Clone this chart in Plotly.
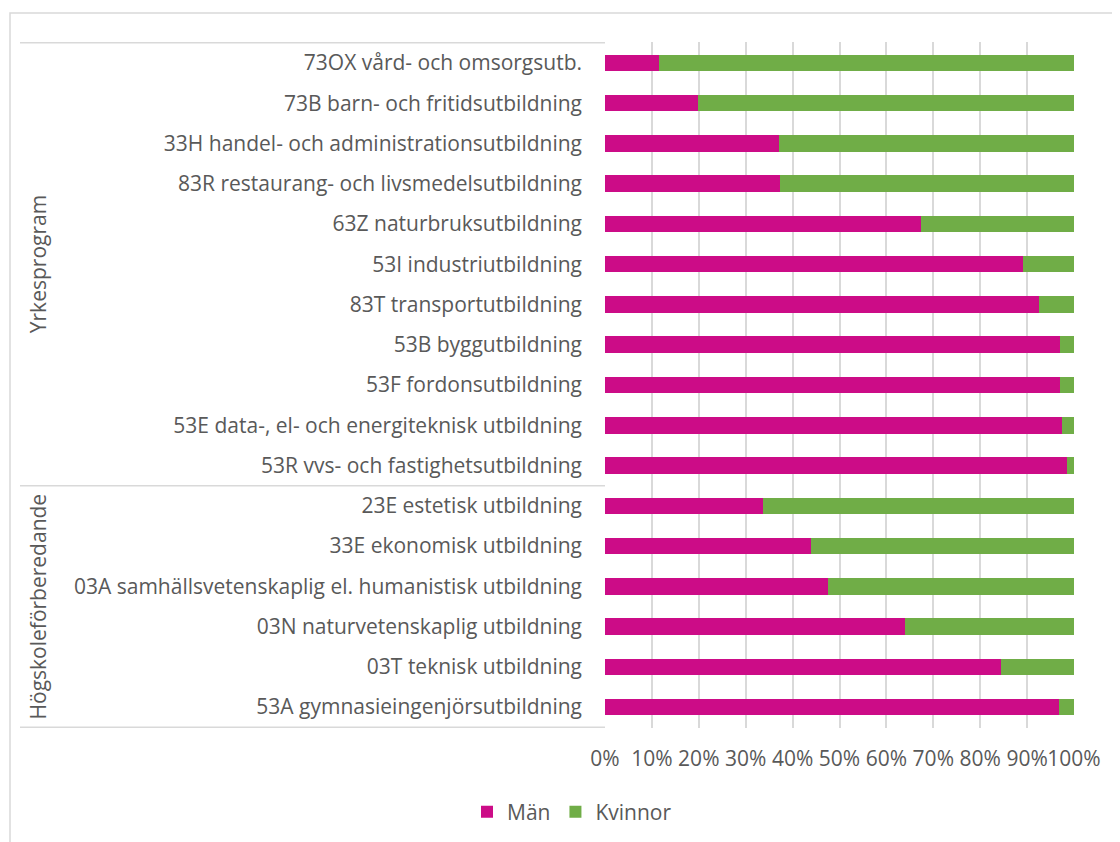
import plotly.graph_objects as go

# Kategorier uppifrån och ned
program = [
    "73OX vård- och omsorgsutb.",
    "73B barn- och fritidsutbildning",
    "33H handel- och administrationsutbildning",
    "83R restaurang- och livsmedelsutbildning",
    "63Z naturbruksutbildning",
    "53I industriutbildning",
    "83T transportutbildning",
    "53B byggutbildning",
    "53F fordonsutbildning",
    "53E data-, el- och energiteknisk utbildning",
    "53R vvs- och fastighetsutbildning",
    "23E estetisk utbildning",
    "33E ekonomisk utbildning",
    "03A samhällsvetenskaplig el. humanistisk utbildning",
    "03N naturvetenskaplig utbildning",
    "03T teknisk utbildning",
    "53A gymnasieingenjörsutbildning",
]
man = [11.6, 19.9, 37.0, 37.3, 67.4, 89.1, 92.6, 97.0, 97.0, 97.5, 98.4,
       33.7, 44.0, 47.5, 63.9, 84.5, 96.7]
kvinnor = [88.4, 80.1, 63.0, 62.7, 32.6, 10.9, 7.4, 3.0, 3.0, 2.5, 1.6,
           66.3, 56.0, 52.5, 36.1, 15.5, 3.3]
groups = ["Yrkesprogram", "Högskoleförberedande"]
x_ticks = [0, 10, 20, 30, 40, 50, 60, 70, 80, 90, 100]

W, H = 1120, 842
OFF = 8  # sidans body-marginal
L, R, T, B = 605, 1074, 42, 728  # plotytan i sidkoordinater
FONT = "Open Sans"
FS = 21
TXT = "#595959"
GRID = "#d9d9d9"


def px_x(p):
    return (p - L) / (R - L)


def px_y(p):
    return (B - p) / (B - T)


fig = go.Figure()
fig.add_trace(go.Bar(y=program, x=man, name="Män", orientation="h",
                     marker_color="#CC0C87", marker_line_width=0))
fig.add_trace(go.Bar(y=program, x=kvinnor, name="Kvinnor", orientation="h",
                     marker_color="#70AD47", marker_line_width=0))

# ram runt diagrammet
fig.add_shape(type="rect", xref="paper", yref="paper",
              x0=px_x(10), x1=px_x(1135), y0=px_y(870), y1=px_y(13),
              line=dict(color=GRID, width=1.5), layer="below")

# gruppavdelare i kategoriområdet
for yv in [-0.5, 10.5, 16.5]:
    fig.add_shape(type="line", xref="paper", yref="y",
                  x0=px_x(20), x1=0, y0=yv, y1=yv,
                  line=dict(color=GRID, width=1.5))

fig.add_annotation(text=groups[0], xref="paper", yref="y", x=px_x(38), y=5,
                   xanchor="center", yanchor="middle",
                   textangle=-90, showarrow=False,
                   font=dict(family=FONT, size=FS, color=TXT))
fig.add_annotation(text=groups[1], xref="paper", yref="y", x=px_x(38), y=13.5,
                   xanchor="center", yanchor="middle",
                   textangle=-90, showarrow=False,
                   font=dict(family=FONT, size=FS, color=TXT))

fig.update_layout(
    width=W, height=H,
    margin=dict(l=L - OFF, r=W + OFF - R, t=T - OFF, b=H + OFF - B, pad=0),
    barmode="stack", bargap=0.59,
    plot_bgcolor="white", paper_bgcolor="white",
    font=dict(family=FONT, size=FS, color=TXT),
    showlegend=True,
    legend=dict(orientation="h", x=px_x(572), xanchor="center",
                y=px_y(812), yanchor="middle",
                font=dict(family=FONT, size=FS, color=TXT),
                itemwidth=30, traceorder="normal"),
)
fig.update_xaxes(
    range=[0, 100], tickvals=x_ticks,
    ticktext=[f"{v}%" for v in x_ticks],
    tickangle=0, automargin=False,
    showgrid=True, gridcolor=GRID, gridwidth=1.5,
    zeroline=False, showline=False, ticks="",
    ticklabelstandoff=16,
    tickfont=dict(family=FONT, size=FS, color=TXT),
)
fig.update_yaxes(
    categoryorder="array", categoryarray=program,
    autorange="reversed", automargin=False,
    showgrid=False, zeroline=False, showline=False, ticks="",
    ticklabelstandoff=22,
    tickfont=dict(family=FONT, size=FS, color=TXT),
)

fig.write_html("out.html")
